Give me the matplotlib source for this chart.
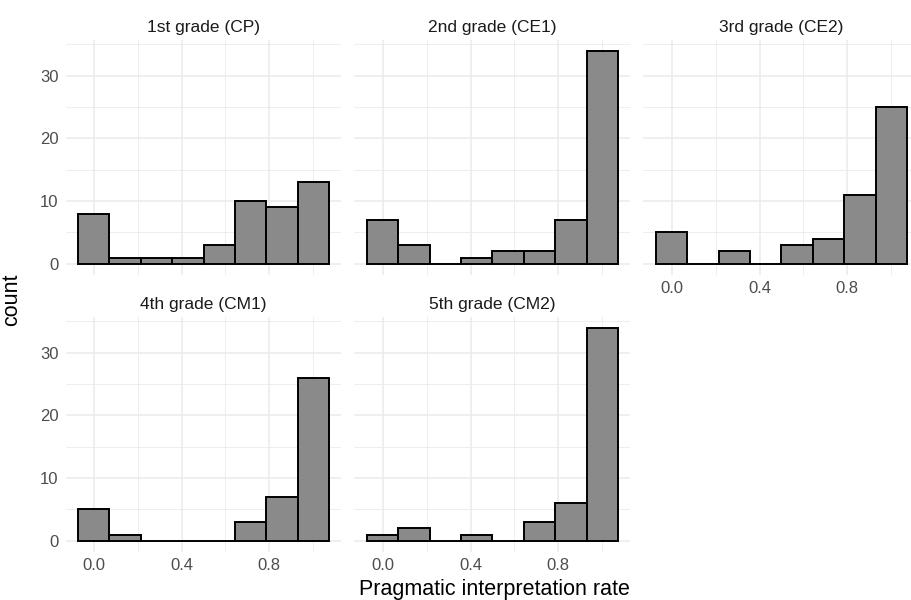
import numpy as np
import matplotlib
matplotlib.use("Agg")
import matplotlib.pyplot as plt

plt.rcParams['font.family'] = ['Liberation Sans', 'DejaVu Sans']

grades = ["1st grade (CP)", "2nd grade (CE1)", "3rd grade (CE2)",
          "4th grade (CM1)", "5th grade (CM2)"]
cp = [8, 1, 1, 1, 3, 10, 9, 13]
ce1 = [7, 3, 0, 1, 2, 2, 7, 34]
ce2 = [5, 0, 2, 0, 3, 4, 11, 25]
cm1 = [5, 1, 0, 0, 0, 3, 7, 26]
cm2 = [1, 2, 0, 1, 0, 3, 6, 34]
counts = [cp, ce1, ce2, cm1, cm2]

n_bins = 8
binwidth = 1 / 7
centers = np.arange(n_bins) * binwidth

x_ticks = [0.0, 0.4, 0.8]
x_minor = [0.2, 0.6, 1.0]
y_ticks = [0, 10, 20, 30]
y_minor = [5, 15, 25, 35]

W, H = 912, 600
fig = plt.figure(figsize=(W / 100, H / 100), dpi=100)

col_left = [65.5, 354.5, 643.5]
panel_w = 276
row_top = [40, 317]
panel_h = 234.5

xmax_data = 1 + binwidth / 2
xr = (xmax_data - (-binwidth / 2))
xlim = (-binwidth / 2 - 0.05 * xr, xmax_data + 0.05 * xr)
ymax = max(max(c) for c in counts)
ylim = (-0.05 * ymax, ymax * 1.05)

grid_col = '#EBEBEB'
for i, (name, vals) in enumerate(zip(grades, counts)):
    r, c = divmod(i, 3)
    ax = fig.add_axes([col_left[c] / W, 1 - (row_top[r] + panel_h) / H,
                       panel_w / W, panel_h / H])
    ax.set_xlim(xlim)
    ax.set_ylim(ylim)
    ax.set_axisbelow(True)
    for x in x_ticks:
        ax.axvline(x, color=grid_col, lw=1.1, zorder=0)
    for x in x_minor:
        ax.axvline(x, color=grid_col, lw=0.6, zorder=0)
    for y in y_ticks:
        ax.axhline(y, color=grid_col, lw=1.1, zorder=0)
    for y in y_minor:
        ax.axhline(y, color=grid_col, lw=0.6, zorder=0)
    ax.bar(centers, vals, width=binwidth, color='#8A8A8A',
           edgecolor='black', linewidth=1.4, zorder=2)
    for s in ax.spines.values():
        s.set_visible(False)
    ax.tick_params(length=0, labelsize=12, colors='#4D4D4D', pad=5)
    ax.set_xticks(x_ticks)
    ax.set_yticks(y_ticks)
    ax.set_xticklabels(["0.0", "0.4", "0.8"])
    if c != 0:
        ax.set_yticklabels([])
    if r == 0 and c < 2:
        ax.set_xticklabels([])
    ax.set_title(name, fontsize=12.5, color='#1A1A1A', pad=6)

fig.text(494 / W, 1 - 590 / H, "Pragmatic interpretation rate",
         fontsize=15.5, ha='center', va='center')
fig.text(12 / W, 1 - 300 / H, "count", fontsize=15.5, rotation=90,
         ha='center', va='center')

fig.savefig("out.png", dpi=100, facecolor='white')
